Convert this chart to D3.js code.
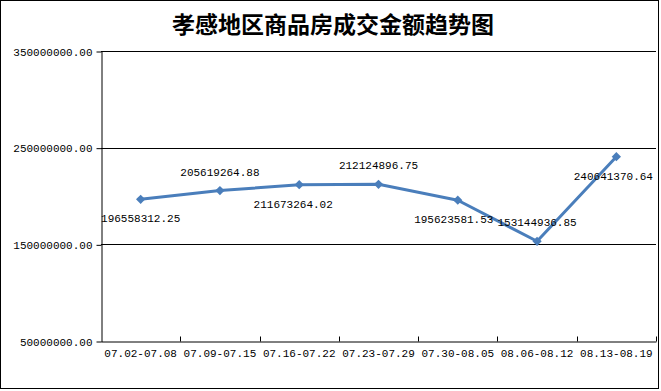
<html>
<script src='https://d3js.org/d3.v7.min.js'></script>
<style>
body {margin: 0; background: #fff;}
text {font-family: 'Liberation Mono', 'DejaVu Sans Mono', monospace; font-size: 11px; fill: #000;}
.title {font-family: 'Noto Sans CJK SC', sans-serif; font-size: 23px; font-weight: bold;}
</style>
<body onload='init()'>
<svg width=661 height=391></svg>
<script>
var weeks = ["07.02-07.08","07.09-07.15","07.16-07.22","07.23-07.29","07.30-08.05","08.06-08.12","08.13-08.19"];
var amounts = [196558312.25, 205619264.88, 211673264.02, 212124896.75, 195623581.53, 153144936.85, 240641370.64];
var yTicks = [50000000, 150000000, 250000000, 350000000];
var title = "孝感地区商品房成交金额趋势图";

function init() {
    var svg = d3.select("svg");
    var left = 101, right = 656, top = 51, bottom = 341;

    svg.append("rect").attr("x",0.5).attr("y",0.5).attr("width",658).attr("height",388)
       .attr("fill","#fff").attr("stroke","#000");

    svg.append("text").attr("class","title").attr("x",333).attr("y",33)
       .attr("text-anchor","middle").text(title);

    var x = d3.scaleBand().domain(weeks).range([left,right]);
    var y = d3.scaleLinear().domain([50000000,350000000]).range([bottom,top]);

    // gridlines
    svg.append("g").selectAll("line").data(yTicks.slice(1)).enter().append("line")
       .attr("x1",left).attr("x2",right)
       .attr("y1",d=>Math.round(y(d))+0.5).attr("y2",d=>Math.round(y(d))+0.5)
       .attr("stroke","#000");

    // y axis
    var ya = svg.append("g").attr("transform","translate("+(left+0.5)+",0.5)")
       .call(d3.axisLeft(y).tickValues(yTicks).tickFormat(d3.format(".2f")).tickSize(5).tickSizeOuter(0));
    ya.select(".domain").attr("stroke","#000");
    ya.selectAll("text").attr("x",-9).style("font-size","11px").style("font-family","'Liberation Mono', monospace");

    // x axis
    var xa = svg.append("g").attr("transform","translate(0,"+(bottom+0.5)+")")
       .call(d3.axisBottom(x).tickSize(0).tickSizeOuter(0));
    xa.select(".domain").attr("stroke","#000");
    xa.selectAll("text").attr("dy","1.1em").style("font-size","11px").style("font-family","'Liberation Mono', monospace");
    xa.selectAll(".bound").data(weeks).enter().append("line").attr("class","bound")
       .attr("x1",d=>Math.round(x(d)+x.bandwidth())+0.5).attr("x2",d=>Math.round(x(d)+x.bandwidth())+0.5)
       .attr("y1",0).attr("y2",-5).attr("stroke","#000");

    var cx = d=>x(d)+x.bandwidth()/2;
    var line = d3.line().x((d,i)=>cx(weeks[i])).y(d=>y(d));
    svg.append("path").datum(amounts).attr("d",line)
       .attr("fill","none").attr("stroke","#4a7ebb").attr("stroke-width",3).attr("stroke-linejoin","round");

    svg.append("g").selectAll("path").data(amounts).enter().append("path")
       .attr("d",d3.symbol().type(d3.symbolDiamond2).size(55))
       .attr("transform",(d,i)=>"translate("+cx(weeks[i])+","+y(d)+")")
       .attr("fill","#4a7ebb");

    var labelPos = [1,-1,1,-1,1,-1,1];
    var labelShift = [0,0,-6,0,-4,0,-3];
    svg.append("g").selectAll("text").data(amounts).enter().append("text")
       .attr("x",(d,i)=>cx(weeks[i])+labelShift[i])
       .attr("y",(d,i)=>y(d)+labelPos[i]*19+4)
       .attr("text-anchor","middle")
       .text(d=>d3.format(".2f")(d));
}
</script>
</body>
</html>
